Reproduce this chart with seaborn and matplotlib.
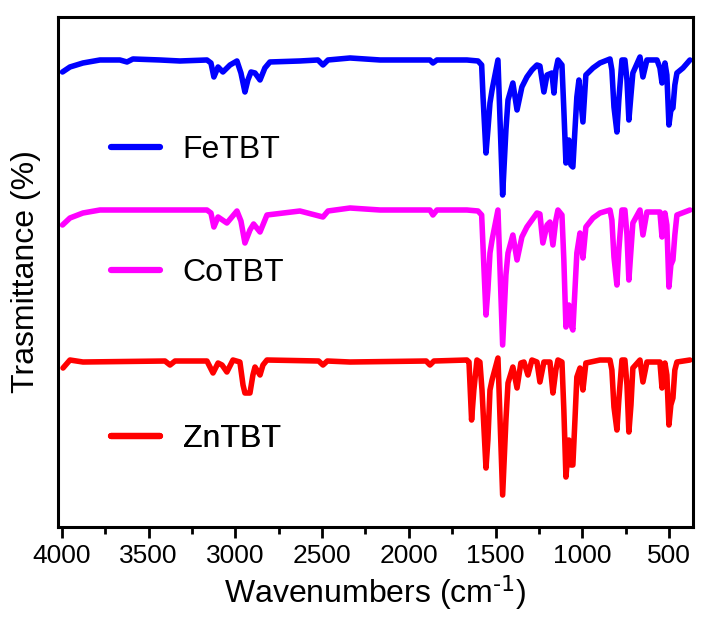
import matplotlib
matplotlib.use("Agg")
import matplotlib.pyplot as plt
from matplotlib.lines import Line2D
from matplotlib.ticker import MultipleLocator
import seaborn as sns
import pandas as pd

sns.set_style("ticks")
plt.rcParams['font.family'] = ['Liberation Sans', 'DejaVu Sans']
plt.rcParams['mathtext.default'] = 'regular'
plt.rcParams['axes.unicode_minus'] = False
for k in ['text.color', 'axes.edgecolor', 'axes.labelcolor', 'xtick.color', 'ytick.color']:
    plt.rcParams[k] = 'black'

# ---- data (wavenumber cm-1, offset transmittance a.u.) ----
fe_wn = [3997, 3954, 3879, 3781, 3666, 3625, 3591, 3435, 3320, 3164, 3141, 3124, 3100, 3072,
         3031, 2991, 2968, 2945, 2928, 2910, 2887, 2858, 2830, 2801, 2628, 2524, 2495, 2466,
         2339, 2166, 1878, 1861, 1838, 1665, 1601, 1580, 1572, 1555, 1544, 1532, 1520, 1486,
         1459, 1440, 1428, 1400, 1376, 1348, 1319, 1290, 1261, 1244, 1221, 1203, 1175, 1163,
         1152, 1140, 1117, 1106, 1094, 1077, 1065, 1054, 1042, 1031, 1019, 996, 979, 938,
         898, 840, 829, 817, 800, 789, 771, 754, 742, 731, 719, 708, 667, 650, 627, 569,
         552, 540, 523, 512, 500, 489, 477, 466, 454, 419, 379]
fe_t = [455, 460, 464, 467, 467, 465, 468, 467, 466, 467, 464, 450, 460, 455,
        462, 466, 454, 435, 447, 455, 454, 447, 459, 465, 466, 467, 462, 467,
        469, 467, 467, 464, 467, 467, 466, 462, 430, 374, 397, 424, 437, 467,
        332, 397, 427, 444, 417, 440, 450, 457, 462, 461, 435, 452, 454, 434,
        457, 467, 462, 417, 364, 387, 362, 360, 397, 430, 447, 405, 452, 459,
        464, 468, 457, 420, 395, 427, 467, 467, 447, 407, 432, 454, 470, 450, 467, 467,
        459, 444, 464, 452, 402, 417, 419, 442, 454, 459, 467]

co_wn = [3997, 3954, 3879, 3781, 3666, 3435, 3164, 3141, 3124, 3100, 3049, 2991, 2968,
         2945, 2916, 2895, 2858, 2818, 2628, 2495, 2466, 2339, 2166, 1878, 1861, 1838,
         1665, 1601, 1580, 1572, 1555, 1544, 1532, 1520, 1486, 1459, 1440, 1428, 1400,
         1376, 1348, 1319, 1261, 1244, 1227, 1203, 1186, 1169, 1152, 1140, 1117, 1106,
         1094, 1077, 1065, 1054, 1042, 1031, 1013, 996, 979, 938, 898, 840, 829, 817, 800,
         789, 771, 754, 742, 731, 719, 708, 667, 650, 627, 552, 540, 523, 512, 500, 489,
         477, 466, 454, 379]
co_t = [302, 309, 314, 317, 317, 317, 317, 314, 300, 310, 304, 316, 306,
        284, 297, 303, 295, 312, 316, 310, 316, 319, 317, 317, 312, 317,
        317, 316, 312, 280, 212, 237, 274, 287, 317, 182, 252, 274, 292,
        267, 290, 300, 314, 313, 284, 302, 305, 282, 307, 317, 312, 267,
        200, 222, 202, 197, 237, 274, 294, 269, 300, 309, 314, 317, 307, 270, 242,
        277, 317, 317, 292, 247, 277, 304, 317, 292, 315, 315, 290, 314, 302, 240, 262,
        267, 292, 312, 317]

zn_wn = [3994, 3954, 3879, 3406, 3377, 3348, 3164, 3129, 3100, 3077, 3049, 3014, 2974,
         2956, 2945, 2916, 2899, 2887, 2858, 2841, 2818, 2520, 2495, 2470, 2339, 1900,
         1878, 1855, 1665, 1653, 1638, 1625, 1607, 1590, 1578, 1555, 1544, 1532, 1520,
         1486, 1459, 1440, 1428, 1400, 1376, 1354, 1336, 1313, 1290, 1261, 1244, 1221,
         1186, 1169, 1152, 1140, 1117, 1106, 1094, 1077, 1065, 1054, 1042, 1031, 1013,
         996, 979, 898, 840, 829, 817, 800, 789, 771, 754, 742, 731, 719, 708, 667, 650,
         627, 552, 540, 523, 512, 500, 489, 477, 466, 454, 379]
zn_t = [159, 167, 165, 166, 162, 166, 166, 154, 164, 162, 155, 167, 165,
        142, 134, 134, 152, 160, 152, 162, 167, 166, 162, 166, 165, 166,
        162, 166, 167, 165, 107, 137, 167, 165, 137, 59, 87, 137, 147,
        169, 32, 107, 144, 160, 139, 164, 165, 152, 167, 165, 145, 165,
        165, 134, 157, 167, 165, 117, 50, 87, 62, 62, 107, 150, 159,
        137, 164, 167, 167, 157, 120, 97, 127, 167, 167, 142, 95, 122, 159, 167, 145,
        165, 165, 139, 164, 152, 102, 122, 129, 157, 165, 167]

samples = ["FeTBT", "CoTBT", "ZnTBT"]
colors = ["#0000FF", "#FF00FF", "#FF0000"]

df = pd.concat([
    pd.DataFrame({"wn": fe_wn, "T": fe_t, "sample": "FeTBT"}),
    pd.DataFrame({"wn": co_wn, "T": co_t, "sample": "CoTBT"}),
    pd.DataFrame({"wn": zn_wn, "T": zn_t, "sample": "ZnTBT"}),
], ignore_index=True)

fig = plt.figure(figsize=(7.02, 6.22), dpi=100)
ax = fig.add_axes([0.0826, 0.1527, 0.9044, 0.82])

sns.lineplot(data=df, x="wn", y="T", hue="sample", hue_order=samples,
             palette=colors, estimator=None, sort=False, linewidth=4.0,
             legend=False, ax=ax)

ax.set_xlim(4023, 362)
ax.set_ylim(0, 510)
ax.set_yticks([])
ax.xaxis.set_major_locator(MultipleLocator(500))
ax.xaxis.set_minor_locator(MultipleLocator(250))
ax.tick_params(axis='x', which='major', direction='out', length=8, width=2,
               labelsize=19, pad=4)
ax.tick_params(axis='x', which='minor', direction='out', length=5, width=2)
for s in ax.spines.values():
    s.set_linewidth(2.2)
    s.set_color('black')
    s.set_visible(True)

ax.set_xlabel("Wavenumbers (cm$^{\\text{-1}}$)", fontsize=23, labelpad=4)
ax.set_ylabel("Trasmittance (%)", fontsize=23, labelpad=12)

legend_y = [0.739, 0.498, 0.1725]
for name, col, ly in zip(samples, colors, legend_y):
    h = Line2D([], [], color=col, linewidth=4.5)
    leg = ax.legend([h], [name], loc='center left', bbox_to_anchor=(0.083, ly),
                    frameon=False, fontsize=23, handlelength=1.55,
                    handletextpad=0.7, borderpad=0, borderaxespad=0)
    ax.add_artist(leg)

fig.savefig("out.png", dpi=100)
